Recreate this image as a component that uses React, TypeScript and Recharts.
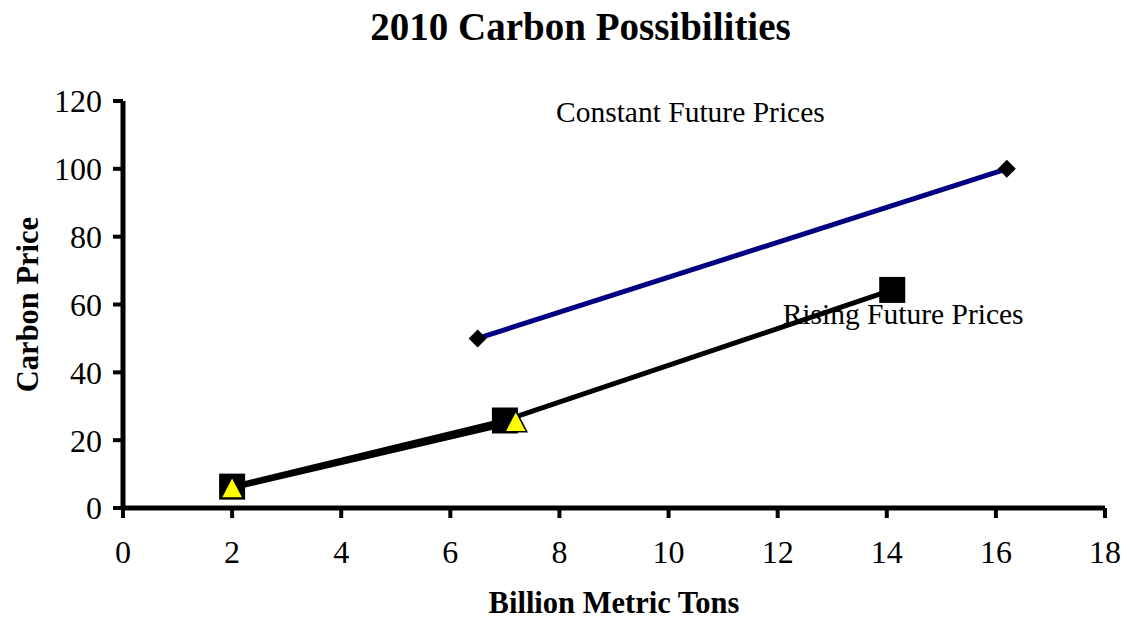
import React from 'react';
import { LineChart, Line, XAxis, YAxis, ReferenceDot } from 'recharts';

const FONT = '"Liberation Serif", "Times New Roman", serif';

const xTicks = [0, 2, 4, 6, 8, 10, 12, 14, 16, 18];
const yTicks = [0, 20, 40, 60, 80, 100, 120];

const constantX = [6.5, 16.2];
const constantY = [50, 100];

const risingX = [2, 7, 14.1];
const risingY = [6.3, 25.8, 64.3];

const triangleX = [2, 7.2];
const triangleY = [5.9, 25.4];

const annotationText = ['Constant Future Prices', 'Rising Future Prices'];
const annotationX = [10.4, 14.3];
const annotationY = [116.8, 57.2];

const constantData = constantX.map((x, i) => ({ x, y: constantY[i] }));
const risingData = risingX.map((x, i) => ({ x, y: risingY[i] }));
const triangleData = triangleX.map((x, i) => ({ x, y: triangleY[i] }));

const Diamond = (props: any) => {
  const { cx, cy, index } = props;
  const s = 9;
  return (
    <path
      key={`d-${index}`}
      d={`M${cx},${cy - s} L${cx + s},${cy} L${cx},${cy + s} L${cx - s},${cy} Z`}
      fill="#000"
    />
  );
};

const Square = (props: any) => {
  const { cx, cy, index } = props;
  const s = 13;
  return <rect key={`s-${index}`} x={cx - s} y={cy - s} width={2 * s} height={2 * s} fill="#000" />;
};

const Triangle = (props: any) => {
  const { cx, cy, index } = props;
  return (
    <path
      key={`t-${index}`}
      d={`M${cx},${cy - 11} L${cx + 11},${cy + 10} L${cx - 11},${cy + 10} Z`}
      fill="#ffff00"
      stroke="#000"
      strokeWidth={1.5}
    />
  );
};

const makeAnnotation = (text: string) => (props: any) => {
  const vb = props.viewBox || {};
  const cx = (vb.x || 0) + (vb.width || 0) / 2;
  const cy = (vb.y || 0) + (vb.height || 0) / 2;
  return (
    <text x={cx} y={cy} textAnchor="middle" dominantBaseline="central" fontFamily={FONT} fontSize={29.5} fill="#000">
      {text}
    </text>
  );
};

const YLabel = (props: any) => {
  const vb = props.viewBox || {};
  const x = 28;
  const y = (vb.y || 0) + (vb.height || 0) / 2;
  return (
    <text
      x={x}
      y={y}
      transform={`rotate(-90, ${x}, ${y})`}
      textAnchor="middle"
      dominantBaseline="central"
      fontFamily={FONT}
      fontWeight="bold"
      fontSize={30.5}
      fill="#000"
    >
      Carbon Price
    </text>
  );
};

const XLabel = (props: any) => {
  const vb = props.viewBox || {};
  const x = (vb.x || 0) + (vb.width || 0) / 2;
  const y = (vb.y || 0) + 95;
  return (
    <text x={x} y={y} textAnchor="middle" dominantBaseline="central" fontFamily={FONT} fontWeight="bold" fontSize={30.5} fill="#000">
      Billion Metric Tons
    </text>
  );
};

export default function App() {
  return (
    <div style={{ position: 'absolute', left: 0, top: 0, width: 1125, height: 619, background: '#fff' }}>
      <div
        style={{
          position: 'absolute',
          left: 0,
          top: 7,
          width: 1161,
          textAlign: 'center',
          fontFamily: FONT,
          fontWeight: 'bold',
          fontSize: 39,
          lineHeight: '39px',
          color: '#000',
        }}
      >
        2010 Carbon Possibilities
      </div>
      <LineChart width={1125} height={619} margin={{ top: 101, right: 20, bottom: 71, left: 63 }}>
        <XAxis
          type="number"
          dataKey="x"
          domain={[0, 18]}
          ticks={xTicks}
          interval={0}
          allowDataOverflow
          height={40}
          axisLine={{ stroke: '#000', strokeWidth: 5 }}
          tickLine={{ stroke: '#000', strokeWidth: 4 }}
          tickSize={10}
          tickMargin={22}
          tick={{ fill: '#000', fontSize: 32, fontFamily: FONT }}
          label={{ content: XLabel }}
        />
        <YAxis
          type="number"
          domain={[0, 120]}
          ticks={yTicks}
          interval={0}
          allowDataOverflow
          width={60}
          axisLine={{ stroke: '#000', strokeWidth: 5 }}
          tickLine={{ stroke: '#000', strokeWidth: 4 }}
          tickSize={10}
          tickMargin={11}
          tick={{ fill: '#000', fontSize: 32, fontFamily: FONT }}
          label={{ content: YLabel }}
        />
        <Line
          data={constantData}
          dataKey="y"
          type="linear"
          stroke="#000080"
          strokeWidth={5}
          dot={Diamond}
          activeDot={false}
          isAnimationActive={false}
          legendType="none"
        />
        <Line
          data={risingData}
          dataKey="y"
          type="linear"
          stroke="#000"
          strokeWidth={5}
          dot={Square}
          activeDot={false}
          isAnimationActive={false}
          legendType="none"
        />
        <Line
          data={triangleData}
          dataKey="y"
          type="linear"
          stroke="#000"
          strokeWidth={5}
          dot={Triangle}
          activeDot={false}
          isAnimationActive={false}
          legendType="none"
        />
        {annotationText.map((t, i) => (
          <ReferenceDot
            key={t}
            x={annotationX[i]}
            y={annotationY[i]}
            r={1}
            fill="none"
            stroke="none"
            ifOverflow="visible"
            label={{ content: makeAnnotation(t) }}
          />
        ))}
      </LineChart>
    </div>
  );
}
